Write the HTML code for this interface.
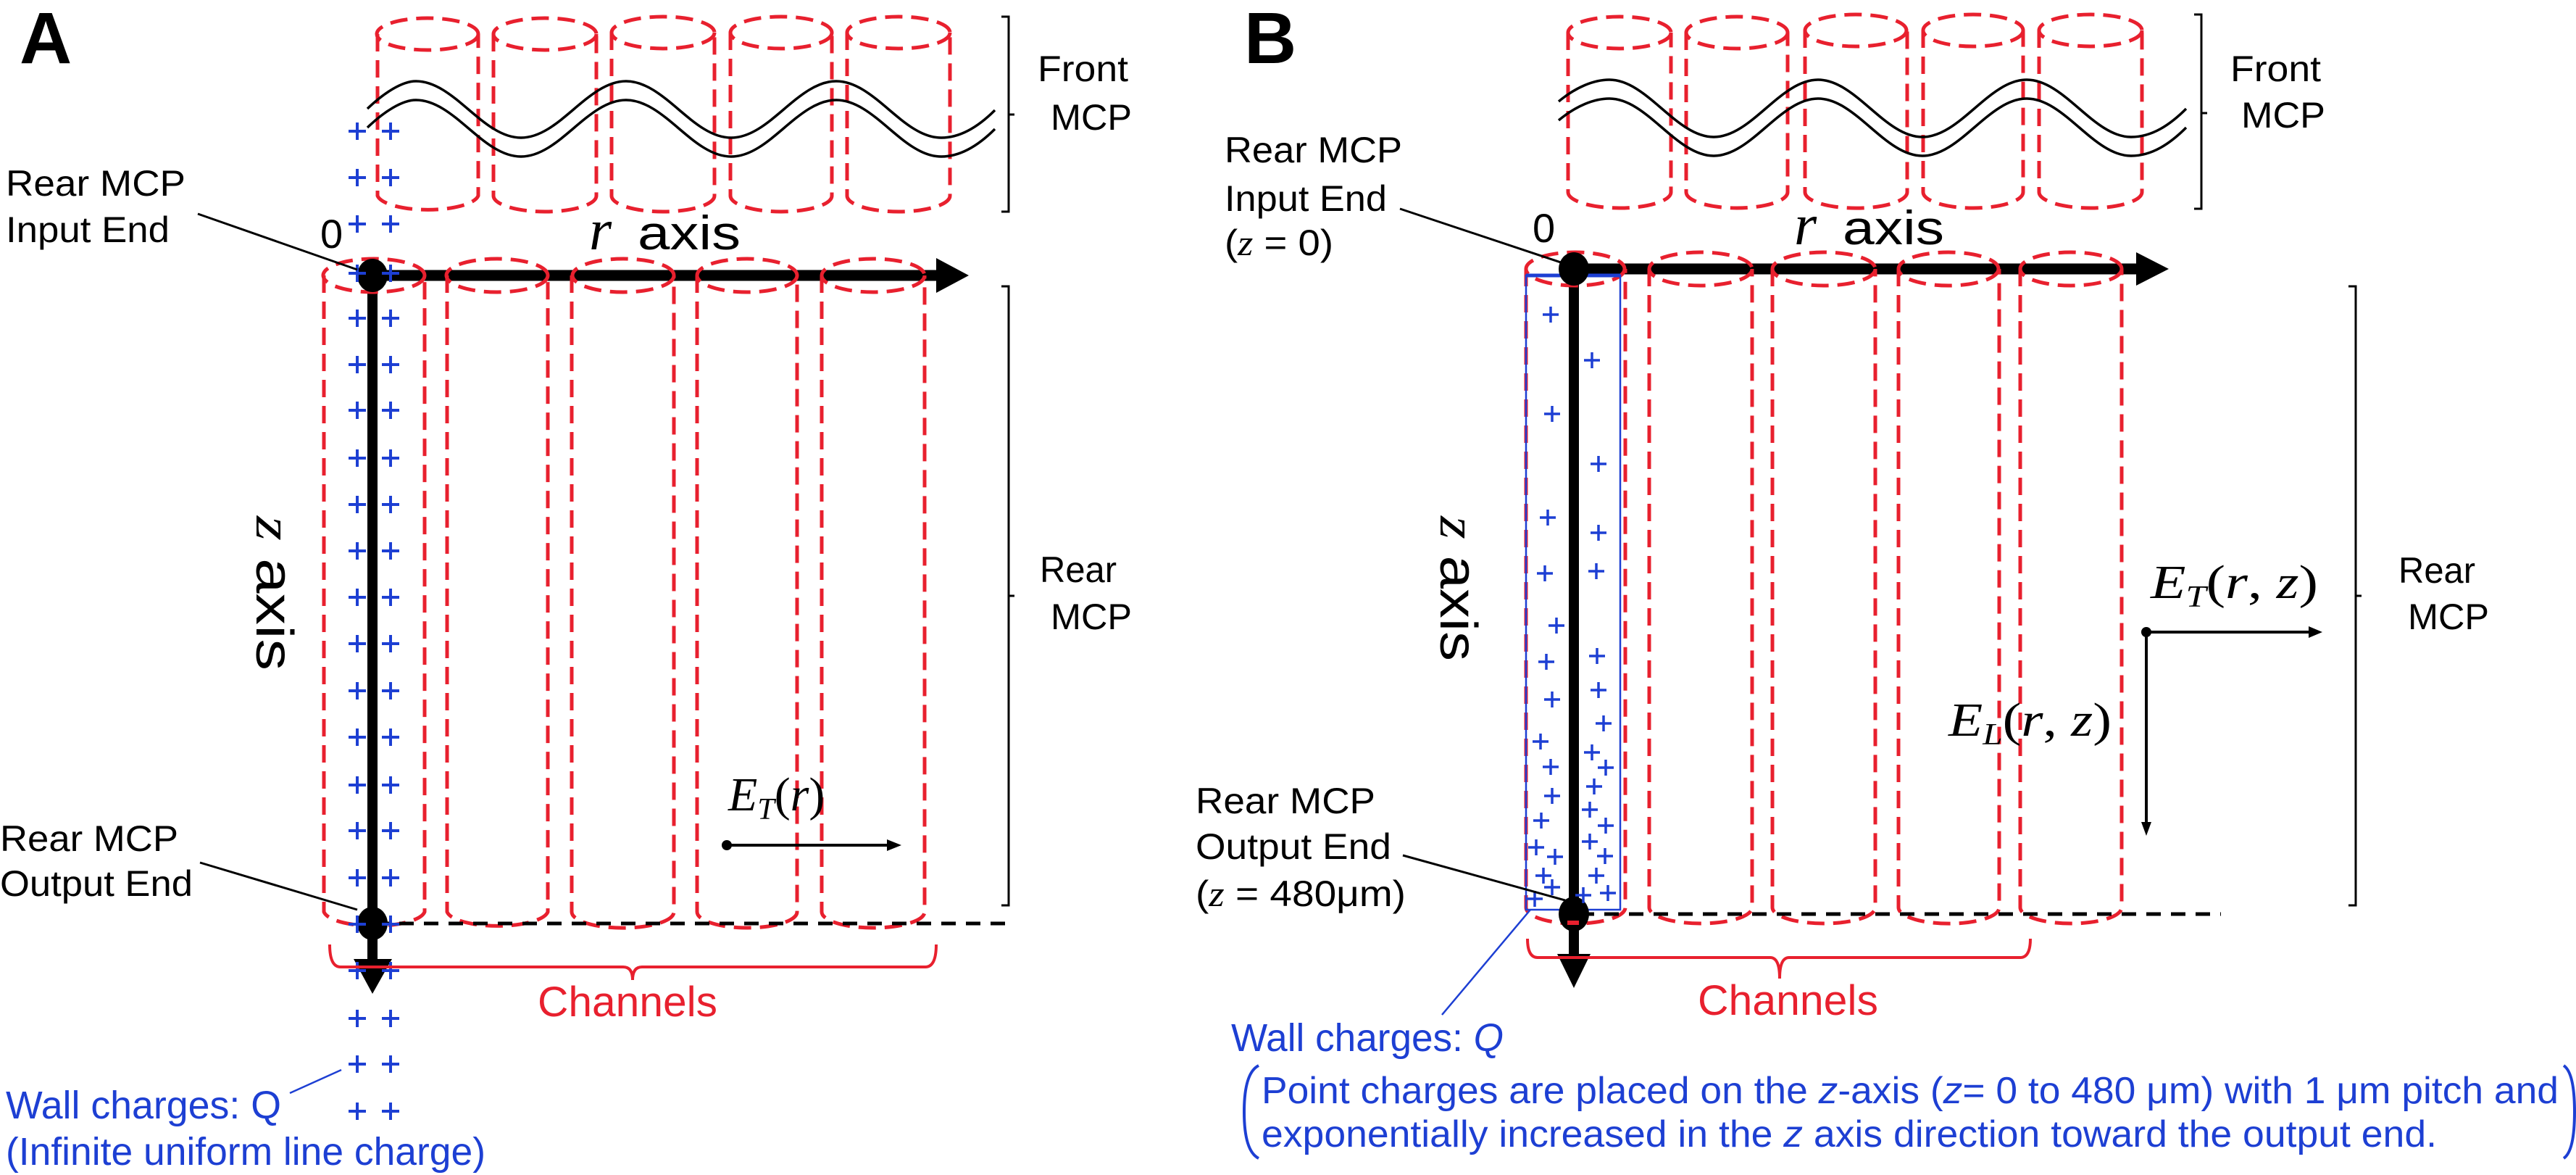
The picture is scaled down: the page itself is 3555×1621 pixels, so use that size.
<!DOCTYPE html>
<html><head><meta charset="utf-8"><style>
html,body{margin:0;padding:0;background:#fff}
svg{display:block}
text{font-family:"Liberation Sans",sans-serif}
.m{font-family:"Liberation Serif",serif;font-style:italic}
</style></head><body>
<svg width="3555" height="1621" viewBox="0 0 3555 1621" xmlns="http://www.w3.org/2000/svg">
<defs>
<path id="pl" d="M-12 0H12M0 -12V12" stroke="#1d3fd3" stroke-width="4" fill="none"/>
<path id="ps" d="M-11 0H11M0 -11V11" stroke="#1d3fd3" stroke-width="3.5" fill="none"/>
</defs>

<!-- ===== PANEL A ===== -->
<text x="27" y="87" font-size="100" font-weight="bold">A</text>

<!-- axes A -->
<line x1="514" y1="380" x2="1296" y2="380" stroke="#000" stroke-width="15"/>
<polygon points="1292,356 1337,380 1292,404" fill="#000"/>
<line x1="514" y1="380" x2="514" y2="1326" stroke="#000" stroke-width="14"/>
<polygon points="488,1323 541,1323 514,1371" fill="#000"/>

<!-- front cylinders A -->
<g fill="none" stroke="#e8202e" stroke-width="5" stroke-dasharray="24 12">
<ellipse cx="590" cy="47" rx="70" ry="22"/><path d="M521 47V270A70 22 0 0 0 660 270V47"/>
<ellipse cx="752" cy="47" rx="71" ry="22"/><path d="M681 47V270A71 22 0 0 0 823 270V47"/>
<ellipse cx="915" cy="45" rx="71" ry="22"/><path d="M844 45V270A71 22 0 0 0 986 270V45"/>
<ellipse cx="1078" cy="45" rx="70" ry="22"/><path d="M1008 45V270A70 22 0 0 0 1148 270V45"/>
<ellipse cx="1240" cy="45" rx="71" ry="22"/><path d="M1169 45V270A71 22 0 0 0 1311 270V45"/>
<!-- rear cylinders A -->
<ellipse cx="516" cy="380" rx="70" ry="23"/><path d="M447 380V1258A70 22 0 0 0 586 1258V380"/>
<ellipse cx="686" cy="380" rx="70" ry="23"/><path d="M617 380V1258A70 22 0 0 0 756 1258V380"/>
<ellipse cx="860" cy="380" rx="70" ry="23"/><path d="M789 380V1258A70 22 0 0 0 930 1258V380"/>
<ellipse cx="1031" cy="380" rx="69" ry="23"/><path d="M962 380V1258A69 22 0 0 0 1100 1258V380"/>
<ellipse cx="1205" cy="380" rx="71" ry="23"/><path d="M1134 380V1258A71 22 0 0 0 1276 1258V380"/>
</g>

<!-- waves A -->
<g fill="none" stroke="#000" stroke-width="3.5">
<path d="M507 150C530 128 555 112 574 112C627 112 666 190 719 190C772 190 811 112 864 112C917 112 956 190 1009 190C1062 190 1101 112 1154 112C1207 112 1246 190 1299 190C1325 190 1350 175 1373 152"/>
<path d="M507 176C530 154 555 138 574 138C627 138 666 216 719 216C772 216 811 138 864 138C917 138 956 216 1009 216C1062 216 1101 138 1154 138C1207 138 1246 216 1299 216C1325 216 1350 201 1373 178"/>
</g>

<!-- brackets A -->
<g fill="none" stroke="#000" stroke-width="3">
<path d="M1382 23H1392V292H1382M1392 158H1400"/>
<path d="M1382 395H1392V1249H1382M1392 822H1400"/>
</g>
<text x="1432" y="112" font-size="50" textLength="125" lengthAdjust="spacingAndGlyphs">Front</text>
<text x="1450" y="179" font-size="50" textLength="112" lengthAdjust="spacingAndGlyphs">MCP</text>
<text x="1435" y="803" font-size="50" textLength="106" lengthAdjust="spacingAndGlyphs">Rear</text>
<text x="1450" y="868" font-size="50" textLength="112" lengthAdjust="spacingAndGlyphs">MCP</text>

<!-- dashed bottom line A -->
<line x1="517" y1="1274" x2="1395" y2="1274" stroke="#000" stroke-width="5" stroke-dasharray="20 14"/>

<!-- dots A -->
<ellipse cx="514" cy="380" rx="21" ry="23" fill="#000"/>
<ellipse cx="514" cy="1274" rx="21" ry="23" fill="#000"/>

<!-- pluses A -->
<g>
<use href="#pl" x="493" y="181"/><use href="#pl" x="539" y="181"/>
<use href="#pl" x="493" y="245"/><use href="#pl" x="539" y="245"/>
<use href="#pl" x="493" y="309"/><use href="#pl" x="539" y="309"/>
<use href="#pl" x="493" y="377"/><use href="#pl" x="539" y="377"/>
<use href="#pl" x="493" y="439"/><use href="#pl" x="539" y="439"/>
<use href="#pl" x="493" y="503"/><use href="#pl" x="539" y="503"/>
<use href="#pl" x="493" y="566"/><use href="#pl" x="539" y="566"/>
<use href="#pl" x="493" y="632"/><use href="#pl" x="539" y="632"/>
<use href="#pl" x="493" y="696"/><use href="#pl" x="539" y="696"/>
<use href="#pl" x="493" y="760"/><use href="#pl" x="539" y="760"/>
<use href="#pl" x="493" y="824"/><use href="#pl" x="539" y="824"/>
<use href="#pl" x="493" y="888"/><use href="#pl" x="539" y="888"/>
<use href="#pl" x="493" y="953"/><use href="#pl" x="539" y="953"/>
<use href="#pl" x="493" y="1017"/><use href="#pl" x="539" y="1017"/>
<use href="#pl" x="493" y="1083"/><use href="#pl" x="539" y="1083"/>
<use href="#pl" x="493" y="1146"/><use href="#pl" x="539" y="1146"/>
<use href="#pl" x="493" y="1211"/><use href="#pl" x="539" y="1211"/>
<use href="#pl" x="493" y="1275"/><use href="#pl" x="539" y="1275"/>
<use href="#pl" x="493" y="1339"/><use href="#pl" x="539" y="1339"/>
<use href="#pl" x="493" y="1405"/><use href="#pl" x="539" y="1405"/>
<use href="#pl" x="493" y="1468"/><use href="#pl" x="539" y="1468"/>
<use href="#pl" x="493" y="1533"/><use href="#pl" x="539" y="1533"/>
</g>

<!-- labels A -->
<text x="8" y="270" font-size="50" textLength="248" lengthAdjust="spacingAndGlyphs">Rear MCP</text>
<text x="8" y="334" font-size="50" textLength="226" lengthAdjust="spacingAndGlyphs">Input End</text>
<line x1="273" y1="295" x2="493" y2="372" stroke="#000" stroke-width="3"/>
<text x="442" y="342" font-size="56">0</text>
<text x="813" y="344" font-size="80" class="m">r</text>
<text x="880" y="344" font-size="66" textLength="142" lengthAdjust="spacingAndGlyphs">axis</text>
<text transform="translate(354,712) rotate(90)" font-size="72" textLength="213" lengthAdjust="spacingAndGlyphs"><tspan class="m">z</tspan> axis</text>

<text x="0" y="1174" font-size="50" textLength="246" lengthAdjust="spacingAndGlyphs">Rear MCP</text>
<text x="0" y="1236" font-size="50" textLength="266" lengthAdjust="spacingAndGlyphs">Output End</text>
<line x1="276" y1="1190" x2="493" y2="1255" stroke="#000" stroke-width="3"/>

<!-- E_T(r) arrow A -->
<text x="1005" y="1118" font-size="66" class="m">E<tspan font-size="42" dy="12">T</tspan><tspan dy="-12" font-style="normal">(</tspan>r<tspan font-style="normal">)</tspan></text>
<circle cx="1003" cy="1166" r="7" fill="#000"/>
<line x1="1003" y1="1166" x2="1230" y2="1166" stroke="#000" stroke-width="4"/>
<polygon points="1224,1158 1244,1166 1224,1174" fill="#000"/>

<!-- Channels A -->
<path d="M455 1303Q455 1334 470 1334H860Q873 1334 873 1352Q873 1334 886 1334H1277Q1292 1334 1292 1303" fill="none" stroke="#e8202e" stroke-width="4"/>
<text x="742" y="1402" font-size="58" fill="#e8202e" textLength="248" lengthAdjust="spacingAndGlyphs">Channels</text>

<!-- wall charges A -->
<line x1="400" y1="1508" x2="471" y2="1476" stroke="#1d3fd3" stroke-width="2.5"/>
<text x="8" y="1543" font-size="54" fill="#1d3fd3" textLength="380" lengthAdjust="spacingAndGlyphs">Wall charges: Q</text>
<text x="8" y="1607" font-size="54" fill="#1d3fd3" textLength="662" lengthAdjust="spacingAndGlyphs">(Infinite uniform line charge)</text>

<!-- ===== PANEL B ===== -->
<text x="1717" y="87" font-size="100" font-weight="bold">B</text>

<line x1="2172" y1="371" x2="2952" y2="371" stroke="#000" stroke-width="15"/>
<polygon points="2948,348 2993,371 2948,394" fill="#000"/>
<line x1="2172" y1="371" x2="2172" y2="1318" stroke="#000" stroke-width="14"/>
<polygon points="2149,1316 2195,1316 2172,1363" fill="#000"/>

<g fill="none" stroke="#e8202e" stroke-width="5" stroke-dasharray="24 12">
<ellipse cx="2235" cy="45" rx="71" ry="22"/><path d="M2164 45V265A71 22 0 0 0 2306 265V45"/>
<ellipse cx="2397" cy="45" rx="70" ry="22"/><path d="M2327 45V265A70 22 0 0 0 2467 265V45"/>
<ellipse cx="2561" cy="42" rx="70" ry="22"/><path d="M2491 42V265A70 22 0 0 0 2632 265V42"/>
<ellipse cx="2723" cy="42" rx="69" ry="22"/><path d="M2654 42V265A69 22 0 0 0 2792 265V42"/>
<ellipse cx="2885" cy="42" rx="71" ry="22"/><path d="M2814 42V265A71 22 0 0 0 2956 265V42"/>
<ellipse cx="2174" cy="371" rx="68" ry="23"/><path d="M2106 371V1252A68 22 0 0 0 2243 1252V371"/>
<ellipse cx="2347" cy="371" rx="71" ry="23"/><path d="M2276 371V1252A71 22 0 0 0 2418 1252V371"/>
<ellipse cx="2517" cy="371" rx="71" ry="23"/><path d="M2446 371V1252A71 22 0 0 0 2588 1252V371"/>
<ellipse cx="2689" cy="371" rx="69" ry="23"/><path d="M2620 371V1252A69 22 0 0 0 2759 1252V371"/>
<ellipse cx="2858" cy="371" rx="70" ry="23"/><path d="M2788 371V1252A70 22 0 0 0 2928 1252V371"/>
</g>

<g fill="none" stroke="#000" stroke-width="3.5">
<path d="M2151 140C2175 120 2200 110 2221 110C2273 110 2313 189 2365 189C2417 189 2457 110 2509 110C2561 110 2601 189 2653 189C2705 189 2745 110 2797 110C2849 110 2889 189 2941 189C2970 189 2995 172 3017 150"/>
<path d="M2151 166C2175 146 2200 136 2221 136C2273 136 2313 215 2365 215C2417 215 2457 136 2509 136C2561 136 2601 215 2653 215C2705 215 2745 136 2797 136C2849 136 2889 215 2941 215C2970 215 2995 198 3017 176"/>
</g>

<g fill="none" stroke="#000" stroke-width="3">
<path d="M3028 20H3038V288H3028M3038 156H3046"/>
<path d="M3241 395H3251V1249H3241M3251 822H3259"/>
</g>
<text x="3078" y="112" font-size="50" textLength="125" lengthAdjust="spacingAndGlyphs">Front</text>
<text x="3093" y="176" font-size="50" textLength="116" lengthAdjust="spacingAndGlyphs">MCP</text>
<text x="3310" y="804" font-size="50" textLength="106" lengthAdjust="spacingAndGlyphs">Rear</text>
<text x="3323" y="868" font-size="50" textLength="112" lengthAdjust="spacingAndGlyphs">MCP</text>

<line x1="2180" y1="1261" x2="3065" y2="1261" stroke="#000" stroke-width="5" stroke-dasharray="20 14"/>

<!-- blue rect -->
<rect x="2106" y="380" width="130" height="875" fill="none" stroke="#1d3fd3" stroke-width="2.5"/>
<line x1="2106" y1="380" x2="2236" y2="380" stroke="#1d3fd3" stroke-width="5"/>

<ellipse cx="2172" cy="371" rx="21" ry="23" fill="#000"/>
<ellipse cx="2172" cy="1261" rx="21" ry="24" fill="#000"/>
<rect x="2163" y="1270" width="16" height="6" fill="#e8202e"/>

<g>
<use href="#ps" x="2140" y="434"/><use href="#ps" x="2197" y="497"/><use href="#ps" x="2142" y="571"/>
<use href="#ps" x="2206" y="640"/><use href="#ps" x="2136" y="714"/><use href="#ps" x="2206" y="735"/>
<use href="#ps" x="2132" y="791"/><use href="#ps" x="2203" y="788"/><use href="#ps" x="2148" y="863"/>
<use href="#ps" x="2204" y="905"/><use href="#ps" x="2134" y="913"/><use href="#ps" x="2206" y="952"/>
<use href="#ps" x="2142" y="965"/><use href="#ps" x="2213" y="998"/><use href="#ps" x="2126" y="1023"/>
<use href="#ps" x="2197" y="1038"/><use href="#ps" x="2140" y="1058"/><use href="#ps" x="2216" y="1059"/>
<use href="#ps" x="2200" y="1085"/><use href="#ps" x="2142" y="1098"/><use href="#ps" x="2194" y="1117"/>
<use href="#ps" x="2127" y="1132"/><use href="#ps" x="2216" y="1139"/><use href="#ps" x="2120" y="1169"/>
<use href="#ps" x="2194" y="1161"/><use href="#ps" x="2146" y="1182"/><use href="#ps" x="2215" y="1181"/>
<use href="#ps" x="2130" y="1208"/><use href="#ps" x="2203" y="1208"/><use href="#ps" x="2142" y="1224"/>
<use href="#ps" x="2219" y="1232"/><use href="#ps" x="2118" y="1240"/><use href="#ps" x="2185" y="1235"/>
</g>

<text x="1690" y="224" font-size="50" textLength="245" lengthAdjust="spacingAndGlyphs">Rear MCP</text>
<text x="1690" y="291" font-size="50" textLength="224" lengthAdjust="spacingAndGlyphs">Input End</text>
<text x="1690" y="352" font-size="50" textLength="150" lengthAdjust="spacingAndGlyphs">(<tspan class="m">z</tspan> = 0)</text>
<line x1="1932" y1="288" x2="2166" y2="366" stroke="#000" stroke-width="3"/>
<text x="2115" y="334" font-size="56">0</text>
<text x="2476" y="337" font-size="80" class="m">r</text>
<text x="2543" y="337" font-size="66" textLength="140" lengthAdjust="spacingAndGlyphs">axis</text>
<text transform="translate(1988,712) rotate(90)" font-size="72" textLength="200" lengthAdjust="spacingAndGlyphs"><tspan class="m">z</tspan> axis</text>

<text x="1650" y="1122" font-size="50" textLength="248" lengthAdjust="spacingAndGlyphs">Rear MCP</text>
<text x="1650" y="1185" font-size="50" textLength="270" lengthAdjust="spacingAndGlyphs">Output End</text>
<text x="1650" y="1250" font-size="50" textLength="290" lengthAdjust="spacingAndGlyphs">(<tspan class="m">z</tspan> = 480μm)</text>
<line x1="1936" y1="1180" x2="2160" y2="1242" stroke="#000" stroke-width="3"/>

<text x="2968" y="825" font-size="66" class="m" textLength="231" lengthAdjust="spacingAndGlyphs">E<tspan font-size="42" dy="12">T</tspan><tspan dy="-12" font-style="normal">(</tspan>r<tspan font-style="normal">, </tspan>z<tspan font-style="normal">)</tspan></text>
<circle cx="2962" cy="872" r="7" fill="#000"/>
<line x1="2962" y1="872" x2="3192" y2="872" stroke="#000" stroke-width="4"/>
<polygon points="3186,864 3205,872 3186,880" fill="#000"/>
<line x1="2962" y1="872" x2="2962" y2="1140" stroke="#000" stroke-width="4"/>
<polygon points="2955,1134 2969,1134 2962,1153" fill="#000"/>
<text x="2689" y="1015" font-size="66" class="m" textLength="225" lengthAdjust="spacingAndGlyphs">E<tspan font-size="42" dy="12">L</tspan><tspan dy="-12" font-style="normal">(</tspan>r<tspan font-style="normal">, </tspan>z<tspan font-style="normal">)</tspan></text>

<path d="M2108 1295Q2108 1321 2122 1321H2443Q2456 1321 2456 1350Q2456 1321 2469 1321H2788Q2802 1321 2802 1295" fill="none" stroke="#e8202e" stroke-width="4"/>
<text x="2343" y="1400" font-size="58" fill="#e8202e" textLength="249" lengthAdjust="spacingAndGlyphs">Channels</text>

<line x1="2112" y1="1255" x2="1990" y2="1400" stroke="#1d3fd3" stroke-width="2.5"/>
<text x="1699" y="1450" font-size="54" fill="#1d3fd3" textLength="376" lengthAdjust="spacingAndGlyphs">Wall charges: <tspan font-style="italic">Q</tspan></text>
<path d="M1737 1470Q1717 1480 1717 1534Q1717 1588 1737 1598" fill="none" stroke="#1d3fd3" stroke-width="4"/>
<path d="M3538 1470Q3553 1480 3553 1534Q3553 1588 3538 1598" fill="none" stroke="#1d3fd3" stroke-width="4"/>
<text x="1741" y="1522" font-size="52" fill="#1d3fd3" textLength="1790" lengthAdjust="spacingAndGlyphs">Point charges are placed on the <tspan font-style="italic">z</tspan>-axis (<tspan font-style="italic">z</tspan>= 0 to 480 μm) with 1 μm pitch and</text>
<text x="1741" y="1582" font-size="52" fill="#1d3fd3" textLength="1622" lengthAdjust="spacingAndGlyphs">exponentially increased in the <tspan font-style="italic">z</tspan> axis direction toward the output end.</text>
</svg>
</body></html>
